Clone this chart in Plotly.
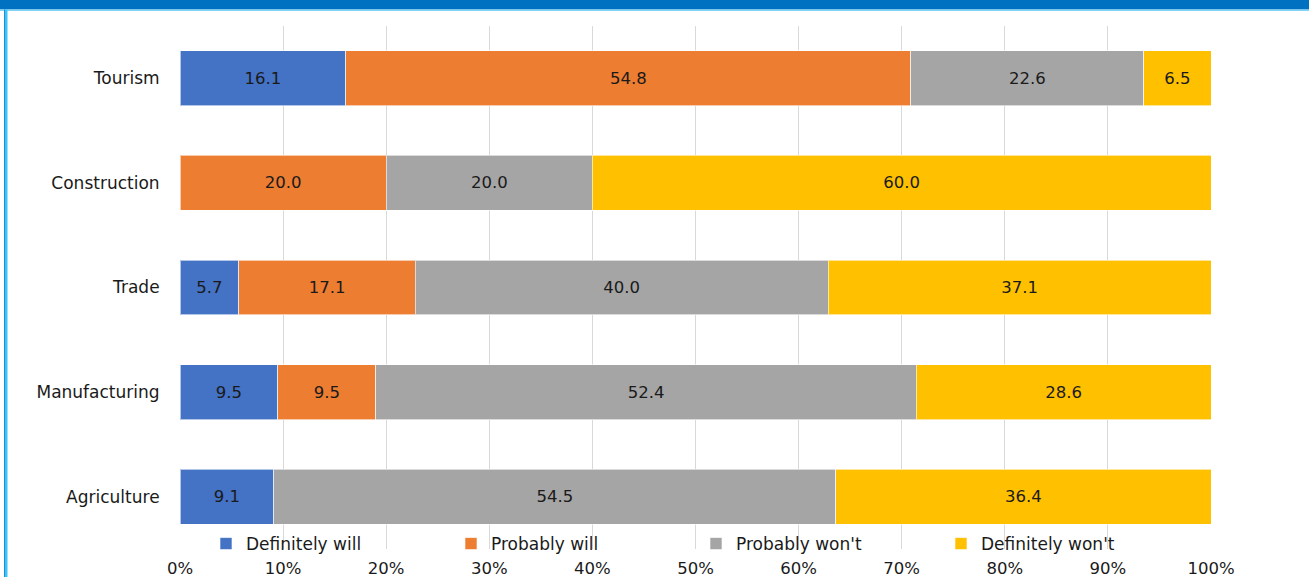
import plotly.graph_objects as go

categories = ["Agriculture", "Manufacturing", "Trade", "Construction", "Tourism"]
series_names = ["Definitely will", "Probably will", "Probably won't", "Definitely won't"]
definitely_will = [9.1, 9.5, 5.7, None, 16.1]
probably_will = [None, 9.5, 17.1, 20.0, 54.8]
probably_wont = [54.5, 52.4, 40.0, 20.0, 22.6]
definitely_wont = [36.4, 28.6, 37.1, 60.0, 6.5]
colors = ["#4472C4", "#ED7D31", "#A5A5A5", "#FFC000"]
x_ticks = list(range(0, 101, 10))

W, H = 1309, 577
L, R, T, B = 180, 98, 26, 28
pw, ph = W - L - R, H - T - B

def px_x(p):
    return (p - L) / pw

def px_y(p):
    return (H - B - p) / ph

FONT = "DejaVu Sans"
TXT = "#1a1a1a"

fig = go.Figure()
for name, vals, col in zip(series_names,
                           [definitely_will, probably_will, probably_wont, definitely_wont],
                           colors):
    fig.add_trace(go.Bar(
        y=categories, x=vals, name=name, orientation="h",
        marker=dict(color=col, line=dict(color="rgba(255,255,255,0.6)", width=1)),
        text=[("%.1f" % v) if v is not None else "" for v in vals],
        textposition="inside", insidetextanchor="middle", textangle=0,
        constraintext="none",
        textfont=dict(family=FONT, size=16.5, color=TXT),
        width=0.525,
    ))

fig.update_layout(
    barmode="stack",
    barnorm="percent",
    width=W, height=H,
    margin=dict(l=L, r=R, t=T, b=B, pad=0, autoexpand=False),
    paper_bgcolor="white", plot_bgcolor="white",
    font=dict(family=FONT, size=16.5, color=TXT),
    showlegend=True,
    legend=dict(
        orientation="h", x=px_x(206), y=px_y(544), xanchor="left", yanchor="middle",
        bgcolor="rgba(0,0,0,0)", entrywidth=200, entrywidthmode="pixels",
        itemwidth=30, font=dict(family=FONT, size=17, color=TXT),
        traceorder="normal",
    ),
    xaxis=dict(
        range=[0, 100], tickvals=x_ticks, ticktext=[f"{t}%" for t in x_ticks],
        showgrid=True, gridcolor="#D9D9D9", gridwidth=1, zeroline=False,
        showline=False, ticks="outside", ticklen=4, tickcolor="rgba(0,0,0,0)",
        tickfont=dict(family=FONT, size=16.5, color=TXT),
        automargin=False, fixedrange=True,
    ),
    yaxis=dict(
        categoryorder="array", categoryarray=categories,
        range=[-0.5, 4.5], showgrid=False, zeroline=False, showline=False,
        ticks="outside", ticklen=16, tickcolor="rgba(0,0,0,0)",
        tickfont=dict(family=FONT, size=17, color=TXT),
        automargin=False,
    ),
    shapes=[
        dict(type="rect", xref="paper", yref="paper", x0=px_x(0), x1=px_x(W), y0=px_y(9.5), y1=px_y(0),
             fillcolor="#0070C0", line=dict(width=0), layer="above"),
        dict(type="rect", xref="paper", yref="paper", x0=px_x(0), x1=px_x(W), y0=px_y(11), y1=px_y(9.5),
             fillcolor="#7FD3F7", line=dict(width=0), layer="above"),
        dict(type="rect", xref="paper", yref="paper", x0=px_x(4.5), x1=px_x(7.5), y0=px_y(H), y1=px_y(9.5),
             fillcolor="#3FC3F5", line=dict(width=0), layer="above"),
        dict(type="rect", xref="paper", yref="paper", x0=px_x(4), x1=px_x(5), y0=px_y(H), y1=px_y(9.5),
             fillcolor="#1E8FD6", line=dict(width=0), layer="above"),
    ],
)

fig.write_html("out.html", config={"displayModeBar": False})
